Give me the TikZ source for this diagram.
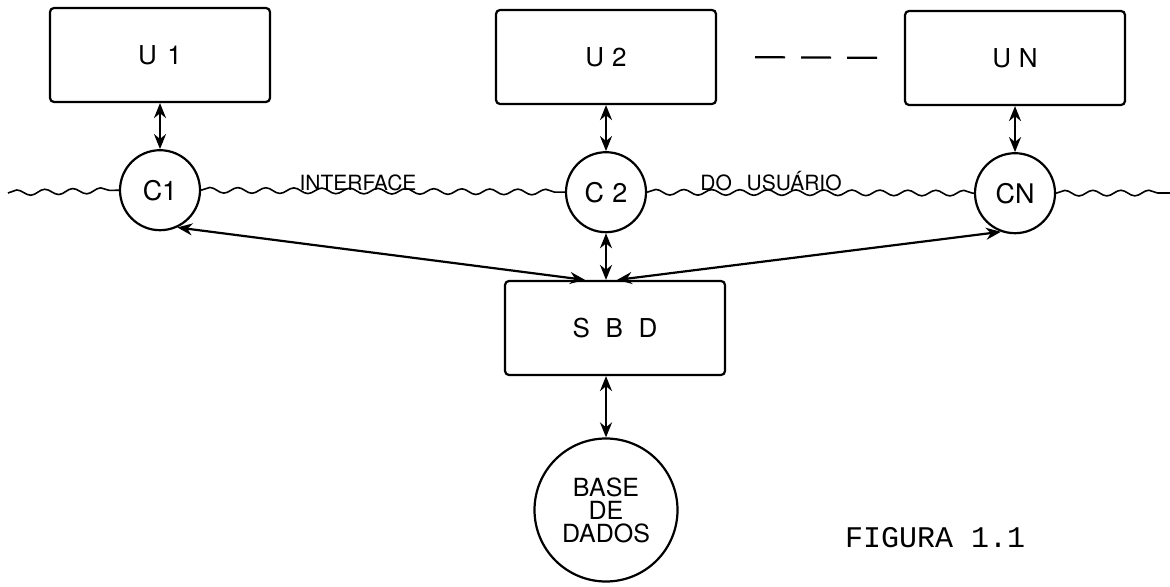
\documentclass[tikz,border=0pt]{standalone}
\usepackage{fontspec}
\setmainfont{TeX Gyre Heros}
\newfontfamily\figfont{Liberation Mono}
\usetikzlibrary{arrows.meta,positioning,decorations.pathmorphing}
\tikzset{
  userbox/.style={draw, line width=1.1pt, rounded corners=2pt,
    minimum width=110pt, minimum height=47pt,
    font=\fontsize{13}{15}\selectfont},
  connode/.style={draw, circle, line width=1.1pt, minimum size=#1,
    inner sep=0pt, font=\fontsize{13.5}{15}\selectfont},
  connode/.default={40pt},
  duparr/.style={{Stealth[length=7.5pt,width=6pt]}-{Stealth[length=7.5pt,width=6pt]}, line width=1.1pt},
  wavy/.style={decorate, decoration={snake, amplitude=1.4pt, segment length=14pt}, line width=0.8pt},
  tag/.style={anchor=base, inner sep=0pt, font=\fontsize{10.5}{12}\selectfont},
}

\begin{document}
\begin{tikzpicture}[x=0.5pt, y=-0.5pt]
  \useasboundingbox (0,0) rectangle (1170,587);
  % usuarios
  \node[userbox] (u1) at (160,55) {U\hspace{0.4em}1};
  \node[userbox] (u2) at (606,57) {U\hspace{0.3em}2};
  \node[userbox] (un) at (1015,58) {U\hspace{0.3em}N};
  \draw[line width=1.1pt, dash pattern=on 15pt off 8pt, shorten <=19pt, shorten >=13pt]
    (u2.east) -- (un.west);
  % conexoes
  \node[connode, below=23pt of u1] (c1) {C1};
  \node[connode, below=23pt of u2] (c2) {C\hspace{0.3em}2};
  \node[connode, below=23pt of un] (cn) {CN};
  \node[userbox] (sbd) at (615,328) {S\hspace{0.6em}B\hspace{0.6em}D};
  \node[connode=71.5pt, align=center, font=\fontsize{12.5}{11.5}\selectfont]
    (base) at (606,510) {BASE\\DE\\DADOS};
  % interface
  \draw[wavy] (8,193) -- (c1.west);
  \draw[wavy] (c1.east) -- (c2.west);
  \draw[wavy] (c2.east) -- (cn.west);
  \draw[wavy] (cn.east) -- (1170,193);
  \node[tag] (intf) at (358,191) {INTERFACE};
  \node[tag] (dous) at (771,191) {DO\hspace{0.7em}USUÁRIO};
  % setas
  \draw[duparr] (u1) -- (c1);
  \draw[duparr] (u2) -- (c2);
  \draw[duparr] (un) -- (cn);
  \draw[duparr] (c1.-65) -- ([xshift=-15pt]sbd.north);
  \draw[duparr] (c2.south) -- (c2.south |- sbd.north);
  \draw[duparr] (cn.-110) -- ([xshift=1pt]sbd.north);
  \draw[duparr] (sbd.south -| base.north) -- (base.north);
  \node[font=\figfont\fontsize{15}{17}\selectfont] (fig) at (935,538) {FIGURA 1.1};
\end{tikzpicture}
\end{document}
